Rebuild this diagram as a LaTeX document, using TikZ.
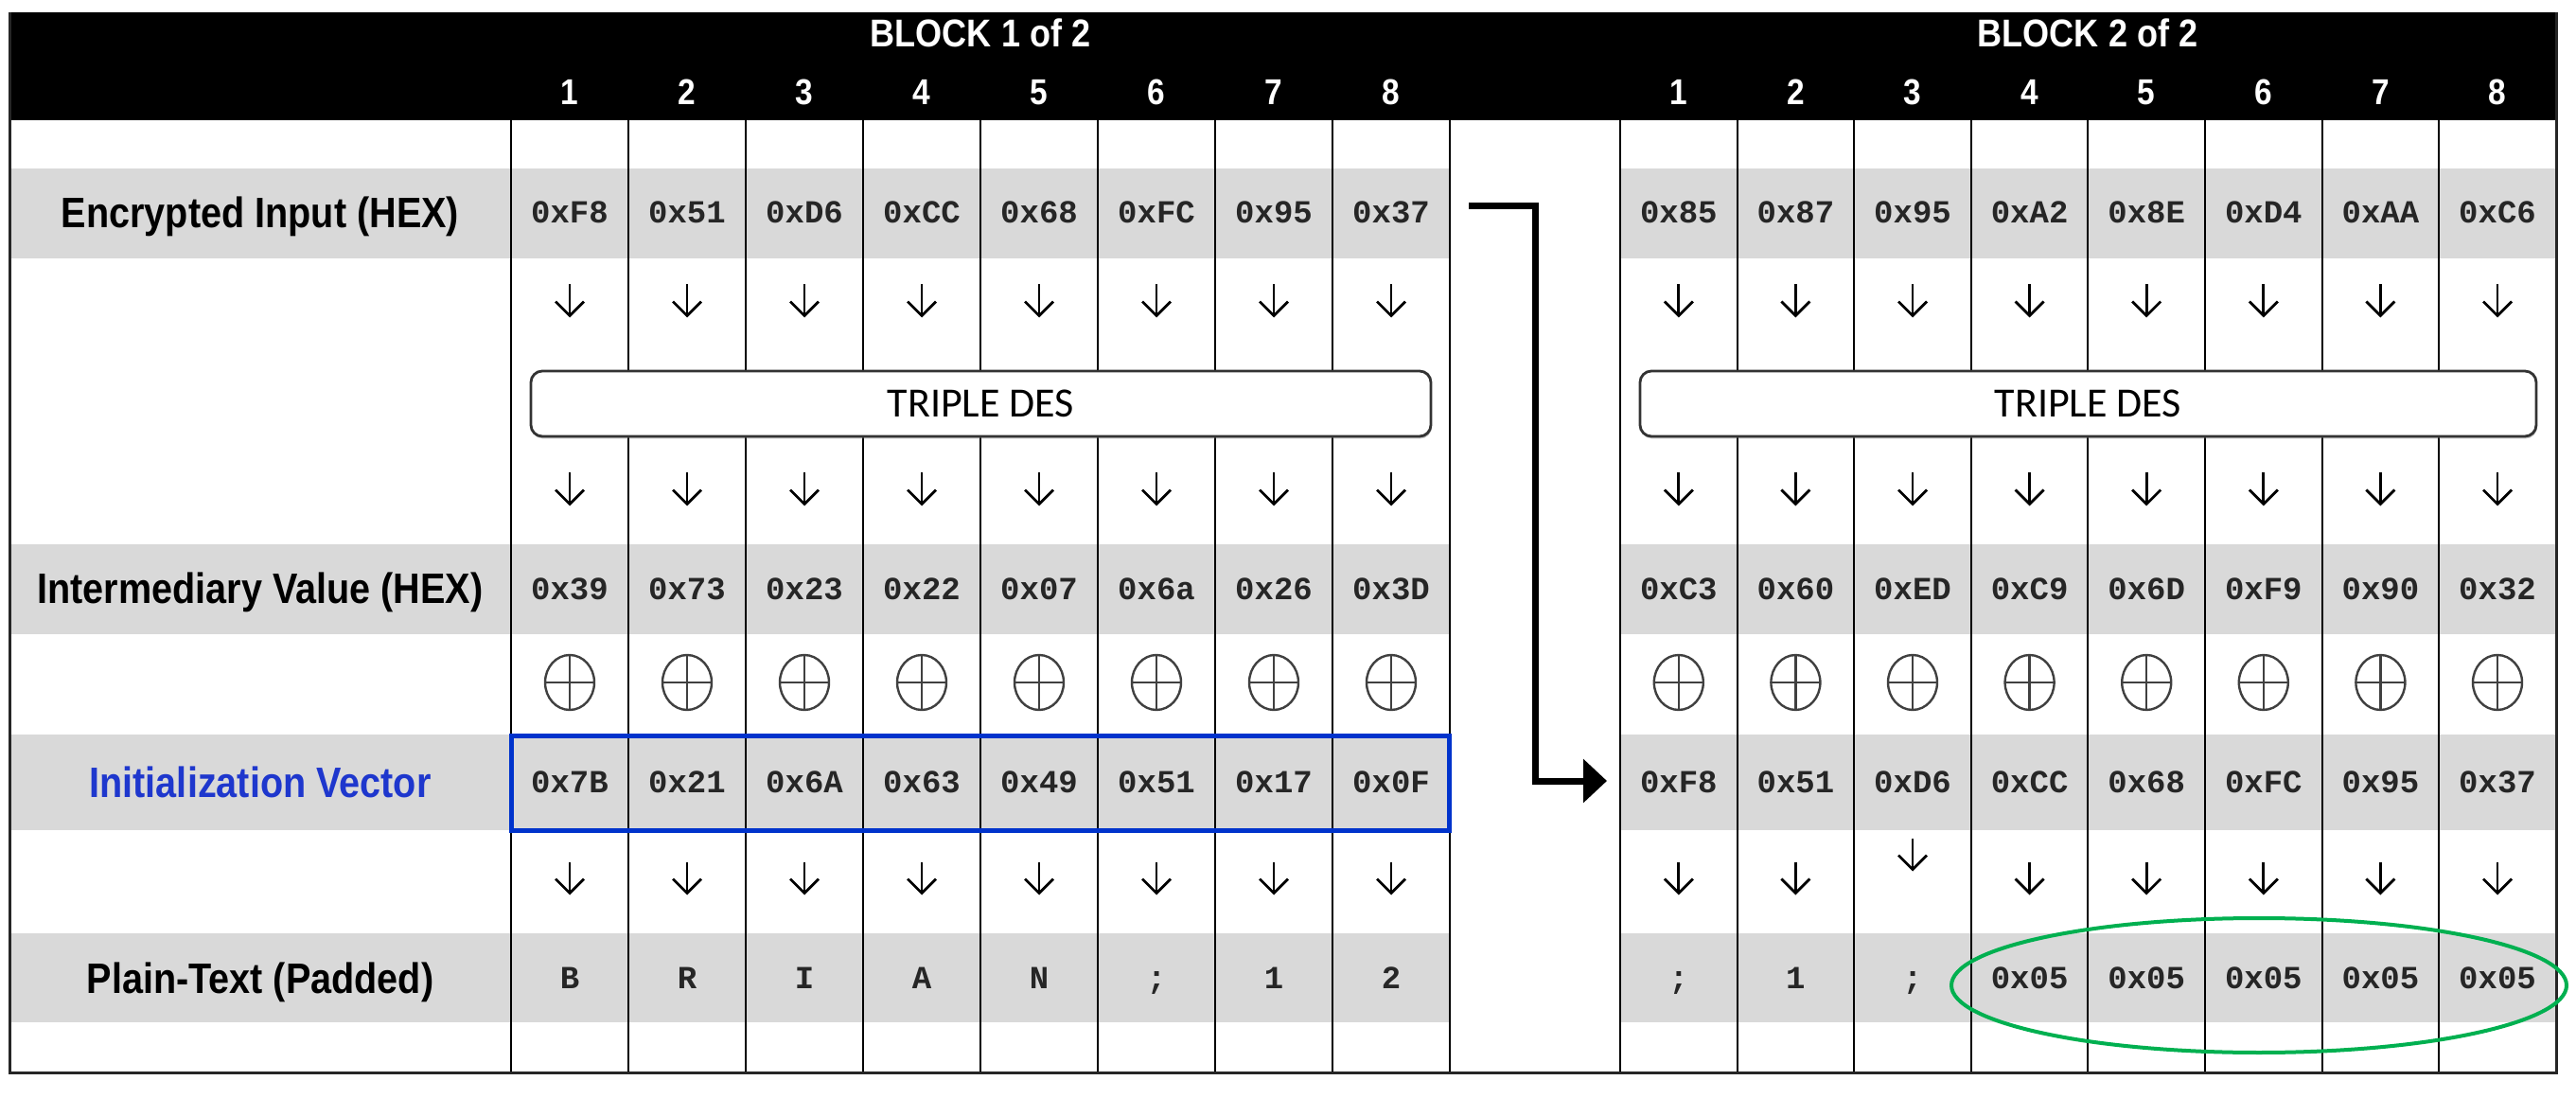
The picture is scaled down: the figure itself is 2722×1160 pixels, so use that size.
\documentclass[tikz,border=0pt]{standalone}
\usepackage{fontspec}
\setmainfont{Liberation Sans}
\newfontfamily\labfont[FakeStretch=0.88]{Liberation Sans}
\newfontfamily\hexfont{Liberation Mono}
\newfontfamily\desfont{Carlito}
\usetikzlibrary{arrows.meta,shapes.geometric,shadows}
\definecolor{rowgray}{RGB}{217,217,217}
\definecolor{ivblue}{RGB}{0,51,204}
\definecolor{ivtext}{RGB}{30,55,205}
\definecolor{padgreen}{RGB}{0,176,80}
\tikzset{
  labtext/.style={font=\labfont\bfseries\fontsize{22.5}{26}\selectfont, inner sep=0pt, text height=16pt, text depth=0pt},
  hdrtext/.style={font=\labfont\bfseries\fontsize{20.5}{24}\selectfont, text=white, inner sep=0pt, text height=15pt, text depth=0pt},
  numtext/.style={font=\labfont\bfseries\fontsize{19}{22}\selectfont, text=white, inner sep=0pt, text height=13.5pt, text depth=0pt},
  hexval/.style={font=\hexfont\bfseries\fontsize{17}{20}\selectfont, text=black!85, inner sep=0pt, text height=11pt, text depth=0pt},
  desbox/.style={draw=black!80, line width=1.4pt, fill=white, rounded corners=6pt,
    drop shadow={shadow xshift=0.4pt, shadow yshift=-1.2pt, opacity=0.45},
    font=\desfont\fontsize{22}{26}\selectfont, inner sep=0pt, text height=14pt, text depth=0pt},
  gridline/.style={line width=1pt, black},
  frameline/.style={line width=1.5pt, black!85},
  dnarrow/.style={line width=1.4pt, -{Straight Barb[length=7.5pt,width=15pt]}},
  xorsym/.style={ellipse, draw=black!75, line width=1.2pt, minimum width=26pt, minimum height=29pt, inner sep=0pt,
    path picture={\draw[black!75, line width=1.2pt] (path picture bounding box.north) -- (path picture bounding box.south)
      (path picture bounding box.west) -- (path picture bounding box.east);}},
  elbow/.style={line width=3.5pt, line join=miter, -{Triangle[length=12.5pt,width=22.5pt]}},
}
\begin{document}
\begin{tikzpicture}[x=0.5pt,y=-0.5pt]
\useasboundingbox (0,0) rectangle (2722,1160);
\fill[white] (0,0) rectangle (2722,1160);
% header band
\fill[black] (10,13) rectangle (2702,127);
% gray rows
\foreach \ya/\yb in {178/273,575/670,776/877,986/1080}{
  \fill[rowgray] (10,\ya) rectangle (1532,\yb);
  \fill[rowgray] (1712,\ya) rectangle (2701,\yb);
}
% column lines
\foreach \k in {0,...,8}{
  \draw[gridline] ({540+124*\k},127) -- ({540+124*\k},1133);
  \draw[gridline] ({1712+123.6*\k},127) -- ({1712+123.6*\k},1133);
}
\draw[frameline] (10,13) -- (10,1133) -- (2701,1133) -- (2701,13);

% headers
\node[hdrtext] (blk1) at (1036,35) {BLOCK 1 of 2};
\node[hdrtext] (blk2) at (2206,35) {BLOCK 2 of 2};
\foreach \i in {1,...,8}{
  \node[numtext] (na-\i) at ({478+124*\i},97) {\i};
  \node[numtext] (nb-\i) at ({1650.2+123.6*\i},97) {\i};
}

% row labels
\node[labtext] (lenc) at (275,225) {Encrypted Input (HEX)};
\node[labtext] (lint) at (275,622) {Intermediary Value (HEX)};
\node[labtext, text=ivtext] (liv) at (275,826) {Initialization Vector};
\node[labtext] (lpt) at (275,1033) {Plain-Text (Padded)};

% block 1 values
\foreach \v [count=\i] in {0xF8,0x51,0xD6,0xCC,0x68,0xFC,0x95,0x37}
  \node[hexval] (e1-\i) at ({478+124*\i},225) {\v};
\foreach \v [count=\i] in {0x39,0x73,0x23,0x22,0x07,0x6a,0x26,0x3D}
  \node[hexval] (m1-\i) at ({478+124*\i},622) {\v};
\foreach \v [count=\i] in {0x7B,0x21,0x6A,0x63,0x49,0x51,0x17,0x0F}
  \node[hexval] (v1-\i) at ({478+124*\i},826) {\v};
\foreach \v [count=\i] in {B,R,I,A,N,;,1,2}
  \node[hexval] (p1-\i) at ({478+124*\i},1033) {\v};

% block 2 values
\foreach \v [count=\i] in {0x85,0x87,0x95,0xA2,0x8E,0xD4,0xAA,0xC6}
  \node[hexval] (e2-\i) at ({1650.2+123.6*\i},225) {\v};
\foreach \v [count=\i] in {0xC3,0x60,0xED,0xC9,0x6D,0xF9,0x90,0x32}
  \node[hexval] (m2-\i) at ({1650.2+123.6*\i},622) {\v};
\foreach \v [count=\i] in {0xF8,0x51,0xD6,0xCC,0x68,0xFC,0x95,0x37}
  \node[hexval] (v2-\i) at ({1650.2+123.6*\i},826) {\v};
\foreach \v [count=\i] in {;,1,;,0x05,0x05,0x05,0x05,0x05}
  \node[hexval] (p2-\i) at ({1650.2+123.6*\i},1033) {\v};

% down arrows and xor symbols
\foreach \i in {1,...,8}{
  \pgfmathsetmacro\ca{478+124*\i}
  \pgfmathsetmacro\cb{1650.2+123.6*\i}
  \pgfmathsetmacro\yl{\i==3 ? 903 : 928}
  \foreach \y in {318,517,928}
    \draw[dnarrow] (\ca,{\y-17.5}) -- (\ca,{\y+17.5});
  \foreach \y in {318,517}
    \draw[dnarrow] (\cb,{\y-17.5}) -- (\cb,{\y+17.5});
  \draw[dnarrow] (\cb,{\yl-17.5}) -- (\cb,{\yl+17.5});
  \node[xorsym] (xa-\i) at (\ca,721) {};
  \node[xorsym] (xb-\i) at (\cb,721) {};
}

% triple DES boxes
\node[desbox, minimum width=475.5pt, minimum height=34.5pt] (des1) at (1036.5,426.5) {TRIPLE DES};
\node[desbox, minimum width=473.5pt, minimum height=34.5pt] (des2) at (2206.5,426.5) {TRIPLE DES};

% IV frame
\node[draw=ivblue, line width=2.5pt, minimum width=495.5pt, minimum height=50pt, inner sep=0pt] (ivbox) at (1035.5,827) {};

% padding ellipse
\node[ellipse, draw=padgreen, line width=2pt, minimum width=325pt, minimum height=71pt, inner sep=0pt] (pad) at (2387,1041) {};

% chaining connector
\coordinate (elbowstart) at (1552,218);
\coordinate (elbowbend) at (1622,825);
\coordinate (blk2iv) at (1712,825);
\draw[elbow, shorten >=7pt] (elbowstart) -| (elbowbend) -- (blk2iv);
\end{tikzpicture}
\end{document}
